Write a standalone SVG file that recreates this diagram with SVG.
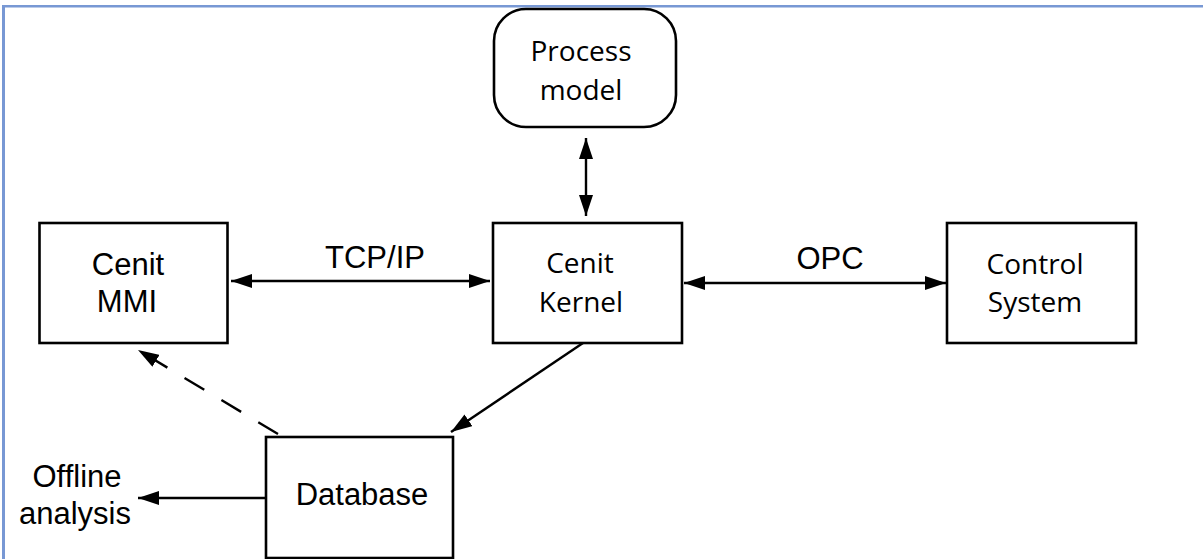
<svg xmlns="http://www.w3.org/2000/svg" width="1203" height="559" viewBox="0 0 1203 559">
<style>
.box{fill:#fff;stroke:#000;stroke-width:2.6}
.arial{font-family:"Liberation Sans",Arial,sans-serif;font-size:31px;fill:#000;text-anchor:middle}
.myriad{font-family:"Open Sans","Noto Sans",sans-serif;font-size:28px;fill:#000;text-anchor:middle}
.conn{stroke:#000;stroke-width:2.4;fill:none}
</style>
<defs>
<marker id="ah" viewBox="0 0 21 14" refX="21" refY="7" markerWidth="21" markerHeight="14" markerUnits="userSpaceOnUse" orient="auto-start-reverse">
<path d="M0,0 L21,7 L0,14 Z" fill="#000"/>
</marker>
</defs>
<rect x="0" y="0" width="1203" height="559" fill="#fff"/>
<g id="frame">
<line x1="2" y1="6.2" x2="1203" y2="6.2" stroke="#7898d4" stroke-width="2.6"/>
<line x1="3.5" y1="5" x2="3.5" y2="559" stroke="#7898d4" stroke-width="3"/>
</g>
<g id="connectors">
<line class="conn" x1="586" y1="138" x2="586" y2="216" marker-start="url(#ah)" marker-end="url(#ah)"/>
<line class="conn" x1="231" y1="281" x2="490" y2="281" marker-start="url(#ah)" marker-end="url(#ah)"/>
<line class="conn" x1="684" y1="283" x2="946" y2="283" marker-start="url(#ah)" marker-end="url(#ah)"/>
<line class="conn" x1="583" y1="343" x2="451" y2="432" marker-end="url(#ah)"/>
<line class="conn" x1="278" y1="434" x2="138" y2="350" stroke-dasharray="23 20" marker-end="url(#ah)"/>
<line class="conn" x1="265" y1="498" x2="138" y2="498" marker-end="url(#ah)"/>
<text class="arial" x="375" y="268">TCP/IP</text>
<text class="arial" x="830" y="269">OPC</text>
</g>
<g id="process-model">
<rect class="box" x="494" y="9" width="182" height="118" rx="32" ry="32"/>
<text class="myriad" x="581" y="61">Process</text>
<text class="myriad" x="581" y="100">model</text>
</g>
<g id="cenit-mmi">
<rect class="box" x="39.5" y="223" width="188" height="120"/>
<text class="arial" x="128" y="275">Cenit</text>
<text class="arial" x="127" y="312">MMI</text>
</g>
<g id="cenit-kernel">
<rect class="box" x="493" y="223" width="189" height="120"/>
<text class="myriad" x="580" y="273">Cenit</text>
<text class="myriad" x="581" y="312">Kernel</text>
</g>
<g id="control-system">
<rect class="box" x="947" y="223" width="189" height="120"/>
<text class="myriad" x="1035" y="274">Control</text>
<text class="myriad" x="1035" y="312">System</text>
</g>
<g id="database">
<rect class="box" x="266" y="437" width="187" height="121"/>
<text class="arial" x="362" y="505">Database</text>
</g>
<g id="offline-analysis">
<text class="arial" x="77" y="487">Offline</text>
<text class="arial" x="75" y="524">analysis</text>
</g>
</svg>
